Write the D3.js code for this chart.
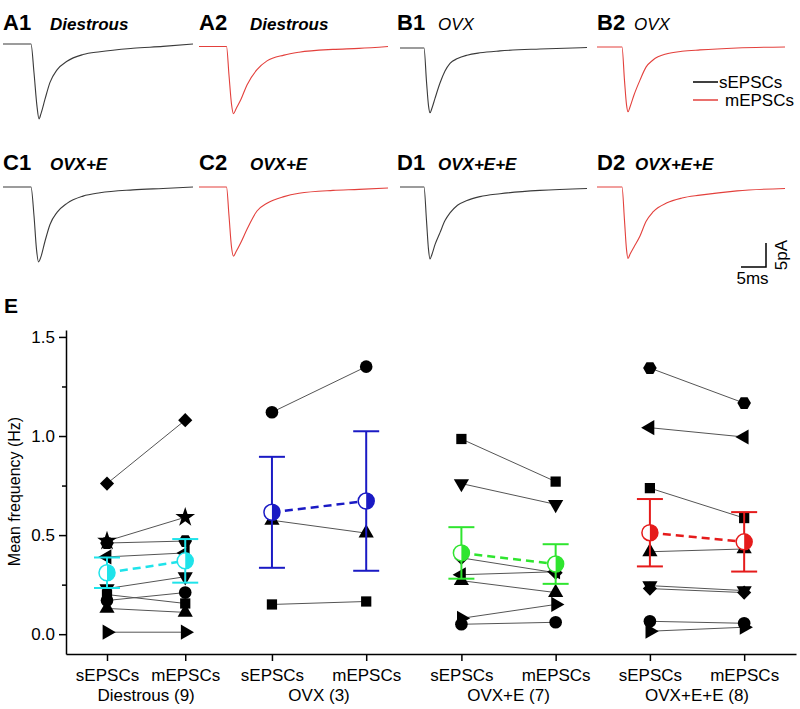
<!DOCTYPE html>
<html><head><meta charset="utf-8">
<script src="https://cdn.jsdelivr.net/npm/d3@7"></script>
<style>
body{margin:0;background:#fff}
svg{display:block}
text{font-family:"Liberation Sans",Arial,Helvetica,sans-serif;fill:#000}
</style>
</head><body>
<svg id="c" width="800" height="709"></svg>
<script>
// ---------- Trace data: [time (ms), current (pA)] ----------
const traceA1 = [[0,0],[5.6,0],[6.2,-6],[6.8,-13],[7.2,-15.6],[7.6,-14.5],[8.4,-11.5],[9.4,-8],[10.8,-5.4],[12.8,-3.6],[16,-2.2],[19.4,-1.6],[26,-0.9],[32,-0.5],[38,0]];
const traceA2 = [[0,0],[5.5,0],[6.0,-6],[6.5,-12],[6.9,-14],[7.4,-13],[8.4,-11],[9.6,-8],[11.6,-4.8],[13.6,-3],[17,-1.8],[20,-1.2],[26.8,-0.6],[32,-0.4],[37.8,0]];
const traceB1 = [[0,0],[4.8,0],[5.3,-7],[5.7,-12],[6.0,-13.5],[6.4,-12.5],[7,-10.5],[8,-7.3],[9,-4.8],[10,-3.2],[11.5,-2.2],[13.4,-1.5],[16,-1],[20,-0.6],[28,-0.2],[37.4,0.1]];
const traceB2 = [[0,0],[5.0,0],[5.5,-7],[5.9,-12],[6.2,-13.5],[6.6,-12.5],[7.4,-10],[8.6,-6.9],[9.8,-4.2],[11.2,-2.7],[14,-1.4],[17,-0.9],[20.6,-0.6],[28,-0.2],[37.6,0]];
const traceC1 = [[0,0],[5.6,0],[6.2,-6],[6.7,-13],[7.1,-15.6],[7.6,-14.5],[8.4,-11.3],[9.4,-7.8],[10.8,-5.3],[12.8,-3.4],[16,-1.9],[19.4,-1.2],[26,-0.6],[32,-0.3],[38,0]];
const traceC2 = [[0,0],[5.5,0],[6.0,-6],[6.5,-12.5],[6.9,-14.4],[7.4,-13.5],[8.4,-11.5],[9.6,-8.8],[11.6,-5],[13.6,-3.4],[17,-2],[20,-1.3],[26.8,-0.7],[32,-0.5],[37.8,-0.2]];
const traceD1 = [[0,0],[4.8,0],[5.3,-7],[5.7,-13],[6.0,-15],[6.4,-14],[7,-12],[8,-9.5],[9,-7],[10,-5.4],[11.5,-3.8],[13.4,-2.8],[16,-2],[20,-1.4],[28,-0.7],[37.4,-0.3]];
const traceD2 = [[0,0],[5.0,0],[5.5,-7],[5.9,-13],[6.2,-14.9],[6.6,-14],[7.4,-12.5],[8.6,-10.2],[9.8,-7.2],[11.2,-5.2],[14,-3.3],[17,-2.3],[20.6,-1.7],[28,-0.8],[37.6,-0.3]];

// ---------- Panel E data ----------
const groups = ["Diestrous (9)", "OVX (3)", "OVX+E (7)", "OVX+E+E (8)"];
const conditions = ["sEPSCs", "mEPSCs"];
const xValues = [1, 1.83, 2.75, 3.75, 4.76, 5.76, 6.76, 7.76];
const yTicks = [0, 0.5, 1.0, 1.5];
const yMinorTicks = [0.25, 0.75, 1.25];

const diestrousShapes = ["diamond","star","hexagon","left","down","square","circle","up","right"];
const diestrousS = [0.76, 0.47, 0.46, 0.39, 0.23, 0.20, 0.17, 0.13, 0.01];
const diestrousM = [1.08, 0.59, 0.47, 0.41, 0.29, 0.155, 0.21, 0.11, 0.01];

const ovxShapes = ["circle","up","square"];
const ovxS = [1.12, 0.575, 0.15];
const ovxM = [1.35, 0.51, 0.165];

const ovxEShapes = ["square","down","diamond","left","up","right","circle"];
const ovxES = [0.985, 0.76, 0.385, 0.30, 0.27, 0.08, 0.05];
const ovxEM = [0.77, 0.655, 0.31, 0.315, 0.21, 0.15, 0.06];

const ovxEEShapes = ["hexagon","left","square","up","down","diamond","circle","right"];
const ovxEES = [1.343, 1.042, 0.737, 0.416, 0.245, 0.23, 0.065, 0.015];
const ovxEEM = [1.166, 0.995, 0.586, 0.43, 0.22, 0.21, 0.055, 0.035];

const meanS = [0.31, 0.615, 0.41, 0.512];
const meanM = [0.37, 0.672, 0.354, 0.466];
const semS = [0.077, 0.28, 0.13, 0.17];
const semM = [0.11, 0.352, 0.10, 0.15];
const groupColors = ["#1fe3ea", "#1a1ac4", "#2fe52f", "#e51b1b"];

// ---------- Drawing ----------
const svg = d3.select("#c");

// Top panel labels
const panelLabels = [
  {id:"A1", name:"Diestrous", x:3, y:30, nx:50, bold:true},
  {id:"A2", name:"Diestrous", x:199, y:30, nx:250, bold:true},
  {id:"B1", name:"OVX", x:397, y:30, nx:438, bold:false},
  {id:"B2", name:"OVX", x:597, y:30, nx:634, bold:false},
  {id:"C1", name:"OVX+E", x:3, y:170, nx:50, bold:true},
  {id:"C2", name:"OVX+E", x:199, y:170, nx:250, bold:true},
  {id:"D1", name:"OVX+E+E", x:397, y:170, nx:438, bold:true},
  {id:"D2", name:"OVX+E+E", x:597, y:170, nx:635, bold:true}
];
panelLabels.forEach(p => {
  svg.append("text").attr("x", p.x).attr("y", p.y)
    .attr("font-size", 22).attr("font-weight", "bold").text(p.id);
  svg.append("text").attr("x", p.nx).attr("y", p.y)
    .attr("font-size", 17).attr("font-style", "italic")
    .attr("font-weight", p.bold ? "bold" : "normal").text(p.name);
});

// Traces
const pxPerMs = 5, pxPerPa = 4.8;
function drawTrace(data, x0, base, color) {
  const t = d3.scaleLinear().domain([0, 5]).range([x0, x0 + 5 * pxPerMs]);
  const i = d3.scaleLinear().domain([0, -5]).range([base, base + 5 * pxPerPa]);
  const line = d3.line().x(d => t(d[0])).y(d => i(d[1])).curve(d3.curveMonotoneX);
  svg.append("path").attr("d", line(data)).attr("fill", "none")
    .attr("stroke", color).attr("stroke-width", 1.1);
}
const black = "#3a3a3a", red = "#e3403c";
drawTrace(traceA1, 3, 44, black);
drawTrace(traceA2, 199, 46.5, red);
drawTrace(traceB1, 400, 48, black);
drawTrace(traceB2, 597, 47, red);
drawTrace(traceC1, 3, 187, black);
drawTrace(traceC2, 199, 187, red);
drawTrace(traceD1, 400, 187, black);
drawTrace(traceD2, 597, 187, red);

// Legend
const legendItems = [{label:"sEPSCs", color:"#000", y:82, tx:719}, {label:"mEPSCs", color:"#e3403c", y:100, tx:725}];
legendItems.forEach(l => {
  svg.append("line").attr("x1", 693).attr("x2", 718).attr("y1", l.y).attr("y2", l.y)
    .attr("stroke", l.color).attr("stroke-width", 1.5);
  svg.append("text").attr("x", l.tx).attr("y", l.y + 6).attr("font-size", 17).text(l.label);
});

// Scale bar
{
  const sbT = d3.scaleLinear().domain([0, 5]).range([741, 741 + 5 * pxPerMs]);
  const sbI = d3.scaleLinear().domain([0, 5]).range([267, 267 - 5 * pxPerPa]);
  svg.append("path").attr("d", `M${sbT(0)},${sbI(0)}H${sbT(5)}V${sbI(5)}`)
    .attr("fill", "none").attr("stroke", "#000").attr("stroke-width", 1.5);
  svg.append("text").attr("x", (sbT(0) + sbT(5)) / 2 - 1).attr("y", 284)
    .attr("text-anchor", "middle").attr("font-size", 17).text("5ms");
  svg.append("text").attr("transform", `translate(787,${(sbI(0)+sbI(5))/2}) rotate(-90)`)
    .attr("text-anchor", "middle").attr("font-size", 17).text("5pA");
}

// Panel E
svg.append("text").attr("x", 4).attr("y", 313).attr("font-size", 21).attr("font-weight", "bold").text("E");

const x = d3.scaleLinear().domain([0.565, 8.31]).range([66, 796]);
const y = d3.scaleLinear().domain([-0.1, 1.535]).range([654, 330]);

const yAxis = svg.append("g").attr("transform", "translate(66,0)")
  .call(d3.axisLeft(y).tickValues(yTicks).tickFormat(d3.format(".1f")).tickSize(7).tickSizeOuter(0).tickPadding(4));
svg.append("g").attr("transform", "translate(66,0)")
  .call(d3.axisLeft(y).tickValues(yMinorTicks).tickFormat("").tickSize(4).tickSizeOuter(0))
  .select(".domain").remove();
const xAxis = svg.append("g").attr("transform", "translate(0,654)")
  .call(d3.axisBottom(x).tickValues(xValues).tickFormat((d, i) => conditions[i % 2]).tickSize(7).tickSizeOuter(0).tickPadding(8));
svg.selectAll(".tick text").attr("font-size", 17).attr("font-family", '"Liberation Sans",Arial,sans-serif');
svg.selectAll(".domain, .tick line").attr("stroke", "#000").attr("stroke-width", 1.5);

groups.forEach((g, i) => {
  svg.append("text").attr("x", (x(xValues[2*i]) + x(xValues[2*i+1])) / 2).attr("y", 701)
    .attr("text-anchor", "middle").attr("font-size", 17).text(g);
});

svg.append("text").attr("transform", `translate(20,${y(0.72)}) rotate(-90)`)
  .attr("text-anchor", "middle").attr("font-size", 16).text("Mean frequency (Hz)");

// Symbols
function hexPath(r) {
  const pts = d3.range(6).map(k => [r * Math.cos(k * Math.PI / 3), r * Math.sin(k * Math.PI / 3)]);
  return "M" + pts.map(p => p.join(",")).join("L") + "Z";
}
const symbolDefs = {
  circle:  {d: d3.symbol(d3.symbolCircle, 125)(), rot: 0},
  square:  {d: d3.symbol(d3.symbolSquare, 105)(), rot: 0},
  up:      {d: d3.symbol(d3.symbolTriangle, 100)(), rot: 0},
  down:    {d: d3.symbol(d3.symbolTriangle, 100)(), rot: 180},
  left:    {d: d3.symbol(d3.symbolTriangle, 100)(), rot: -90},
  right:   {d: d3.symbol(d3.symbolTriangle, 100)(), rot: 90},
  diamond: {d: d3.symbol(d3.symbolSquare, 100)(), rot: 45},
  star:    {d: d3.symbol(d3.symbolStar, 120)(), rot: 0},
  hexagon: {d: hexPath(6.8), rot: 0}
};

const cellGroups = [
  {shapes: diestrousShapes, s: diestrousS, m: diestrousM},
  {shapes: ovxShapes, s: ovxS, m: ovxM},
  {shapes: ovxEShapes, s: ovxES, m: ovxEM},
  {shapes: ovxEEShapes, s: ovxEES, m: ovxEEM}
];

const cells = svg.append("g");
cellGroups.forEach((cg, gi) => {
  const xs = x(xValues[2*gi]), xm = x(xValues[2*gi+1]);
  cg.shapes.forEach((sh, k) => {
    cells.append("line").attr("x1", xs).attr("y1", y(cg.s[k])).attr("x2", xm).attr("y2", y(cg.m[k]))
      .attr("stroke", "#555").attr("stroke-width", 1);
  });
  cg.shapes.forEach((sh, k) => {
    const def = symbolDefs[sh];
    [[xs, cg.s[k]], [xm, cg.m[k]]].forEach(([px, v]) => {
      cells.append("path").attr("d", def.d)
        .attr("transform", `translate(${px},${y(v)}) rotate(${def.rot})`)
        .attr("fill", "#000");
    });
  });
});

// Means with error bars
const capHalf = 13, rMean = 8;
groups.forEach((g, gi) => {
  const col = groupColors[gi];
  const xs = x(xValues[2*gi]), xm = x(xValues[2*gi+1]);
  const grp = svg.append("g");
  [[xs, meanS[gi], semS[gi]], [xm, meanM[gi], semM[gi]]].forEach(([px, mv, e]) => {
    grp.append("line").attr("x1", px).attr("x2", px).attr("y1", y(mv - e)).attr("y2", y(mv + e))
      .attr("stroke", col).attr("stroke-width", 2);
    [mv - e, mv + e].forEach(v => {
      grp.append("line").attr("x1", px - capHalf).attr("x2", px + capHalf).attr("y1", y(v)).attr("y2", y(v))
        .attr("stroke", col).attr("stroke-width", 2);
    });
  });
  grp.append("line").attr("x1", xs).attr("y1", y(meanS[gi])).attr("x2", xm).attr("y2", y(meanM[gi]))
    .attr("stroke", col).attr("stroke-width", 2.5).attr("stroke-dasharray", "8,5");
  [[xs, meanS[gi]], [xm, meanM[gi]]].forEach(([px, mv]) => {
    const cy = y(mv);
    grp.append("circle").attr("cx", px).attr("cy", cy).attr("r", rMean)
      .attr("fill", "#fff").attr("stroke", col).attr("stroke-width", 1.5);
    grp.append("path")
      .attr("d", `M${px},${cy - rMean}A${rMean},${rMean} 0 0 1 ${px},${cy + rMean}Z`)
      .attr("fill", col);
  });
});
</script>
</body></html>
